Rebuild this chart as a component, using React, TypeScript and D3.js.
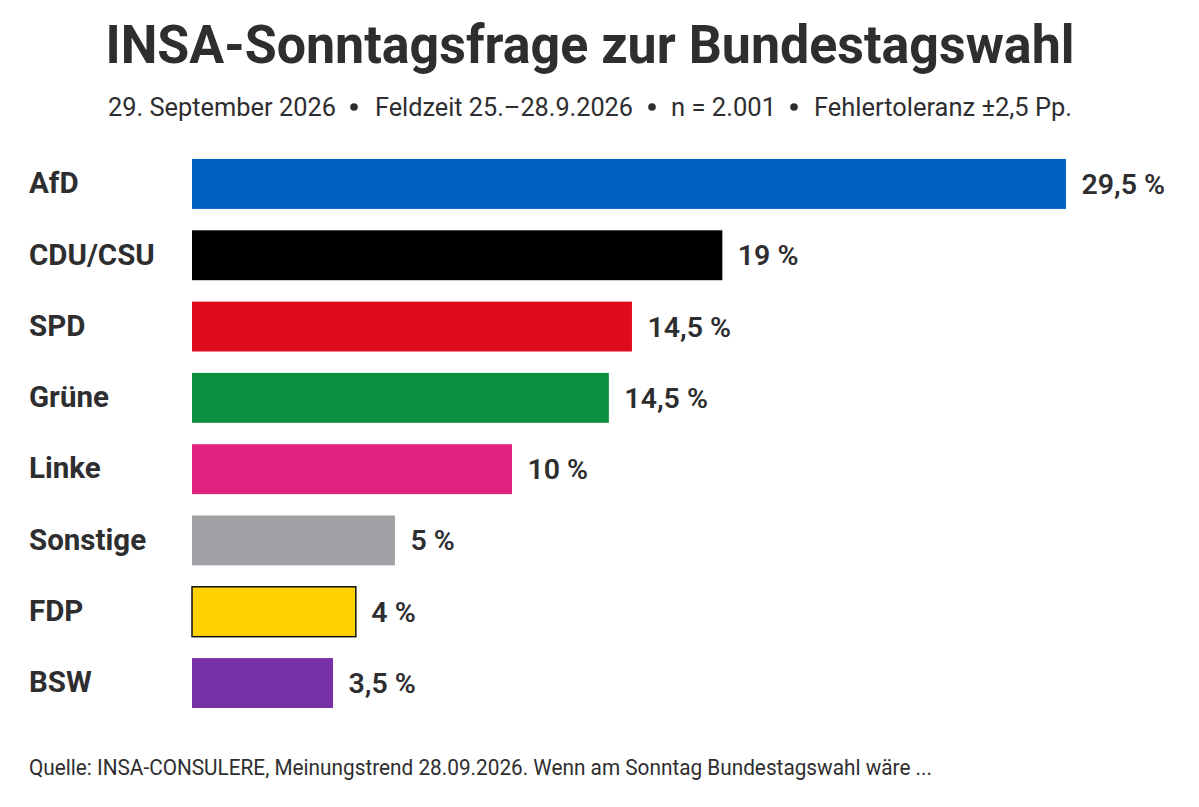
import React from 'react';
import * as d3 from 'd3';

const parties = ['AfD', 'CDU/CSU', 'SPD', 'Grüne', 'Linke', 'Sonstige', 'FDP', 'BSW'];
// printed labels, the drawn bar lengths in the source don't follow them exactly
const valueLabels = ['29,5 %', '19 %', '14,5 %', '14,5 %', '10 %', '5 %', '4 %', '3,5 %'];
// bar lengths, in percent on the AfD bar's scale
const barValues = [29.5, 17.9, 14.85, 14.07, 10.8, 6.85, 5.53, 4.76];
const barColors = ['#0061c4', '#000000', '#e00b1c', '#0b8f40', '#e0227f', '#a0a2a6', '#ffd200', '#7730a5'];

const title = 'INSA-Sonntagsfrage zur Bundestagswahl';
const subtitle = ['29. September 2026', 'Feldzeit 25.–28.9.2026', 'n = 2.001', 'Fehlertoleranz ±2,5 Pp.'];
const source = 'Quelle: INSA-CONSULERE, Meinungstrend 28.09.2026. Wenn am Sonntag Bundestagswahl wäre ...';

const width = 1199;
const height = 807;
const font = 'Roboto, sans-serif';
const textColor = '#2e2e30';

// header layout
const subtitleStarts = [108, 375, 671, 814];
const subtitleWidths = [228, 258, 105, 258];
const bulletCentres = [354, 652, 794];

export default function App() {
  const x = d3.scaleLinear().domain([0, 29.5]).range([192, 1066]);
  const y = d3.scaleBand<string>().domain(parties).range([159, 708]).paddingInner(0.3);

  return (
    <svg
      width={width}
      height={height}
      style={{ position: 'absolute', left: 0, top: 0, background: '#fff', fontFamily: font }}
    >
      <text
        x={105.5}
        y={63}
        fontSize={54}
        fontWeight={700}
        fill={textColor}
        textLength={969}
        lengthAdjust="spacingAndGlyphs"
      >
        {title}
      </text>

      {subtitle.map((s, i) => (
        <text
          key={s}
          x={subtitleStarts[i]}
          y={116}
          fontSize={25.5}
          fill={textColor}
          textLength={subtitleWidths[i]}
          lengthAdjust="spacingAndGlyphs"
        >
          {s}
        </text>
      ))}
      {bulletCentres.map(c => (
        <circle key={c} cx={c} cy={107} r={3.8} fill={textColor} />
      ))}

      {parties.map((p, i) => (
        <g key={p}>
          <text
            x={29}
            y={y(p)! + y.bandwidth() / 2 - 1}
            dy="0.35em"
            fontSize={29.5}
            fontWeight={700}
            fill={textColor}
          >
            {p}
          </text>
          <rect
            x={x(0)}
            y={y(p)}
            width={x(barValues[i]) - x(0)}
            height={y.bandwidth()}
            fill={barColors[i]}
            stroke={p === 'FDP' ? '#111' : 'none'}
            strokeWidth={1.5}
          />
          <text
            x={x(barValues[i]) + 15.5}
            y={y(p)! + y.bandwidth() / 2}
            dy="0.35em"
            fontSize={28.5}
            fontWeight={600}
            fill={textColor}
          >
            {valueLabels[i]}
          </text>
        </g>
      ))}

      <text x={29} y={775} fontSize={22} fill={textColor} textLength={903} lengthAdjust="spacingAndGlyphs">
        {source}
      </text>
    </svg>
  );
}
